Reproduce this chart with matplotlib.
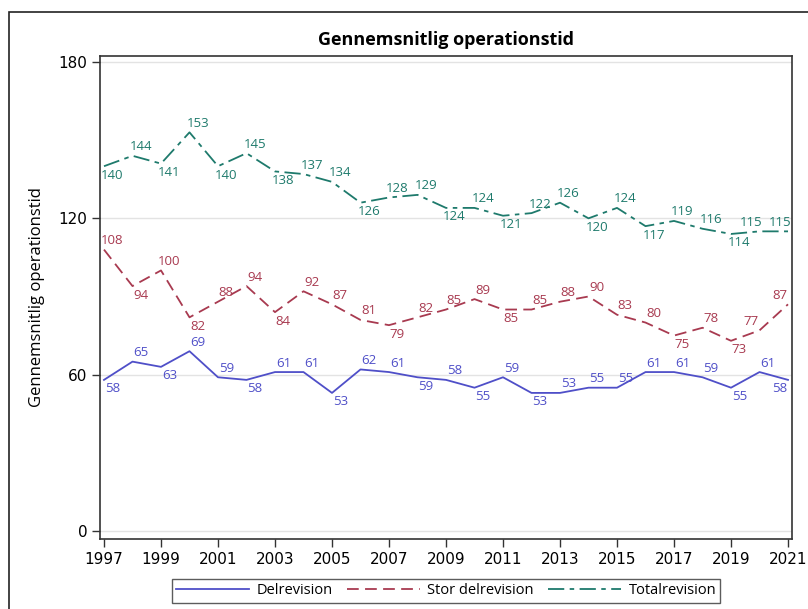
import matplotlib
matplotlib.use("Agg")
import matplotlib.pyplot as plt
from matplotlib.patches import Rectangle
from matplotlib.lines import Line2D

years = list(range(1997, 2022))
delrevision = [58, 65, 63, 69, 59, 58, 61, 61, 53, 62, 61, 59, 58, 55, 59, 53, 53, 55, 55, 61, 61, 59, 55, 61, 58]
stor_delrevision = [108, 94, 100, 82, 88, 94, 84, 92, 87, 81, 79, 82, 85, 89, 85, 85, 88, 90, 83, 80, 75, 78, 73, 77, 87]
totalrevision = [140, 144, 141, 153, 140, 145, 138, 137, 134, 126, 128, 129, 124, 124, 121, 122, 126, 120, 124, 117, 119, 116, 114, 115, 115]
series_names = ["Delrevision", "Stor delrevision", "Totalrevision"]
x_ticks = list(range(1997, 2022, 2))
y_ticks = [0, 60, 120, 180]

# label side per point: 1 = above the line, -1 = below
side_del = [-1, 1, -1, 1, 1, -1, 1, 1, -1, 1, 1, -1, 1, -1, 1, -1, 1, 1, 1, 1, 1, 1, -1, 1, -1]
side_stor = [1, -1, 1, -1, 1, 1, -1, 1, 1, 1, -1, 1, 1, 1, -1, 1, 1, 1, 1, 1, -1, 1, -1, 1, 1]
side_tot = [-1, 1, -1, 1, -1, 1, -1, 1, 1, -1, 1, 1, -1, 1, -1, 1, 1, -1, 1, -1, 1, 1, -1, 1, 1]

# labels pulled to the left of their point (series index, year)
left_labels = {(0, 2021), (1, 2020), (1, 2021), (2, 2020), (2, 2021)}

colors = ["#4F4FC8", "#A83A50", "#1E7A6C"]
styles = ["-", (0, (6.5, 3.5)), (0, (9, 3, 2.5, 3))]

W, H = 808, 609
fig = plt.figure(figsize=(W / 100, H / 100), dpi=100)
fig.patch.set_facecolor("white")

# outer frame
fig.add_artist(Rectangle((9 / W, -0.02), 1.1, 1 - 12 / H + 0.02, transform=fig.transFigure,
                         fill=False, edgecolor="#222222", linewidth=1.2))

ax = fig.add_axes([100 / W, 1 - 539 / H, 692 / W, 483 / H])
ax.set_xlim(1996.86, 2021.14)
ax.set_ylim(-3.07, 182.3)

for y in y_ticks:
    ax.axhline(y, color="#e3e3e3", linewidth=1.0, zorder=0)

label_font = "Open Sans"
for i, (vals, sides, c, ls, name) in enumerate(zip([delrevision, stor_delrevision, totalrevision],
                                                    [side_del, side_stor, side_tot], colors, styles,
                                                    series_names)):
    ax.plot(years, vals, color=c, linestyle=ls, linewidth=1.3, label=name, zorder=3)
    for x, v, s in zip(years, vals, sides):
        dx = -6 if (i, x) in left_labels else 6
        ax.annotate(str(v), (x, v), xytext=(dx, 6.5 if s > 0 else -6.5), textcoords="offset points",
                    ha="center", va="center", fontsize=9.5, color=c, family=label_font, zorder=4)

ax.set_xticks(x_ticks)
ax.set_yticks(y_ticks)
ax.tick_params(direction="out", length=6, width=1, color="#333333", pad=3)
for lab in ax.get_xticklabels() + ax.get_yticklabels():
    lab.set_family(["Liberation Sans Narrow", "DejaVu Sans"])
    lab.set_fontsize(11)
for sp in ax.spines.values():
    sp.set_color("#333333")
    sp.set_linewidth(1.2)

ax.set_ylabel("Gennemsnitlig operationstid", fontsize=12, family="Open Sans", labelpad=10)
ax.set_title("Gennemsnitlig operationstid", fontsize=13, fontweight="bold",
             family="Open Sans", pad=8)

handles = [Line2D([0], [0], color=c, linestyle=ls, linewidth=1.3) for c, ls in zip(colors, styles)]
leg = fig.legend(handles, series_names, loc="center", bbox_to_anchor=(446 / W, 1 - 591 / H),
                 ncol=3, frameon=True, fancybox=False, handlelength=5.0, columnspacing=1.0,
                 handletextpad=0.5, borderpad=0.3, prop={"family": "Open Sans", "size": 10.5})
leg.get_frame().set_edgecolor("#333333")
leg.get_frame().set_linewidth(1.0)

fig.savefig("out.png", dpi=100)
